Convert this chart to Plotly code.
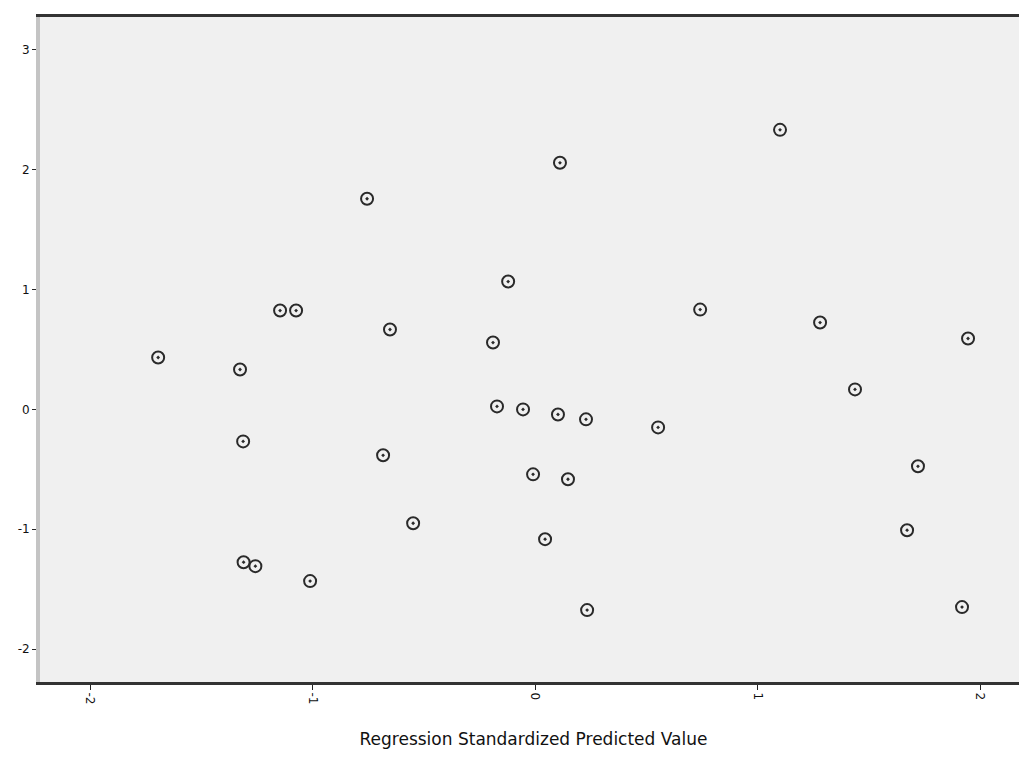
import plotly.graph_objects as go

# Regression Standardized Predicted Value (x) vs Regression Standardized Residual (y)
pred_vals = [-1.694, -1.326, -1.312, -1.31, -1.257, -1.011, -1.146, -1.074, -0.755, -0.652,
             -0.683, -0.548, -0.121, -0.189, -0.171, -0.054, 0.103, 0.229, -0.009, 0.148,
             0.045, 0.234, 0.112, 0.553, 0.742, 1.101, 1.281, 1.438, 1.721, 1.672,
             1.946, 1.919]
resid_vals = [0.433, 0.333, -0.267, -1.275, -1.308, -1.433, 0.825, 0.825, 1.758, 0.667,
              -0.383, -0.95, 1.067, 0.558, 0.025, 0.0, -0.042, -0.083, -0.542, -0.583,
              -1.083, -1.675, 2.058, -0.15, 0.833, 2.333, 0.725, 0.167, -0.475, -1.008,
              0.592, -1.65]

x_ticks = [-2, -1, 0, 1, 2]
y_ticks = [3, 2, 1, 0, -1, -2]
x_title = "Regression Standardized Predicted Value"

fig = go.Figure()
fig.add_trace(go.Scatter(
    x=pred_vals, y=resid_vals, mode="markers",
    marker=dict(symbol="circle-open-dot", size=12, color="#2a2a2a",
                line=dict(width=2, color="#2a2a2a")),
    showlegend=False,
))

fig.update_layout(
    width=1019, height=764,
    margin=dict(l=32, r=0, t=9, b=90),
    paper_bgcolor="white", plot_bgcolor="#f0f0f0",
    font=dict(family="DejaVu Sans", color="#111"),
    xaxis=dict(
        range=[-2.225, 2.211], tickvals=x_ticks, ticktext=[str(v) for v in x_ticks],
        tickangle=90, ticks="outside", ticklen=5, tickcolor="#222",
        showgrid=False, zeroline=False,
        showline=True, linecolor="#333", linewidth=3, mirror=True,
        tickfont=dict(size=12, family="DejaVu Sans"),
        title=dict(text=x_title, font=dict(size=17, family="DejaVu Sans"), standoff=30),
    ),
    yaxis=dict(
        range=[-2.275, 3.275], tickvals=y_ticks, ticktext=[str(v) for v in y_ticks],
        ticks="outside", ticklen=4, tickcolor="#222",
        showgrid=False, zeroline=False,
        showline=True, linecolor="#c4c4c4", linewidth=4,
        tickfont=dict(size=12, family="DejaVu Sans"),
    ),
)

fig.write_html("out.html")
